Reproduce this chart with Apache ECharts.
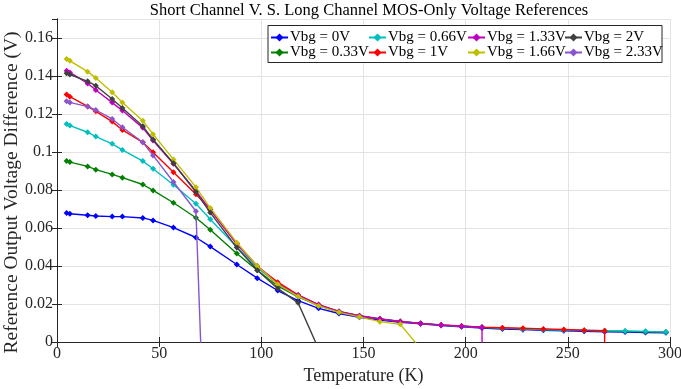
<!DOCTYPE html>
<html><head><meta charset="utf-8">
<script src="https://cdn.jsdelivr.net/npm/echarts@6/dist/echarts.min.js"></script>
<style>html,body{margin:0;padding:0;background:#fff}#c{width:681px;height:389px}</style>
</head><body><div id="c"></div>
<script>
var temps = [4.7, 6.3, 15, 19, 27, 32, 42, 47, 57, 68, 75, 88, 98, 108, 118, 128, 138, 148, 158, 168, 178, 188, 198, 208, 218, 228, 238, 248, 258, 268, 278, 288, 298];
var v0 = [0.0679, 0.0675, 0.0667, 0.0663, 0.0660, 0.0660, 0.0653, 0.0640, 0.0602, 0.0550, 0.0502, 0.0408, 0.0336, 0.0271, 0.0218, 0.0177, 0.0150, 0.0130, 0.0115, 0.0104, 0.0096, 0.0087, 0.0080, 0.0074, 0.0068, 0.0065, 0.0062, 0.0059, 0.0056, 0.0054, 0.0052, 0.0050, 0.0049];
var v033 = [0.0952, 0.0947, 0.0924, 0.0907, 0.0882, 0.0865, 0.0829, 0.0798, 0.0733, 0.0654, 0.0591, 0.0466, 0.0378, 0.0295, 0.0238, 0.0192, 0.0158, 0.0136, 0.0121, 0.0108, 0.0098, 0.0089, 0.0083, 0.0077, 0.0073, 0.0069, 0.0066, 0.0063, 0.0061, 0.0058, 0.0056, 0.0054, 0.0052];
var v066 = [0.1148, 0.1139, 0.1104, 0.1081, 0.1043, 0.1011, 0.0952, 0.0912, 0.0828, 0.0728, 0.0646, 0.0500, 0.0390, 0.0308, 0.0247, 0.0196, 0.0161, 0.0138, 0.0122, 0.0108, 0.0098, 0.0089, 0.0083, 0.0077, 0.0073, 0.0069, 0.0066, 0.0063, 0.0061, 0.0059, 0.0058, 0.0056, 0.0052];
var v1 = [0.1302, 0.1291, 0.1240, 0.1214, 0.1160, 0.1116, 0.1051, 0.0999, 0.0894, 0.0777, 0.0698, 0.0518, 0.0399, 0.0315, 0.0248, 0.0197, 0.0161, 0.0138, 0.0122, 0.0108, 0.0098, 0.0090, 0.0084, 0.0078, 0.0075, 0.0072, 0.0069, 0.0066, 0.0062, 0.0059, -3];
var v133 = [0.1428, 0.1419, 0.1361, 0.1326, 0.1260, 0.1218, 0.1127, 0.1060, 0.0938, 0.0795, 0.0695, 0.0515, 0.0400, 0.0305, 0.0245, 0.0195, 0.0160, 0.0137, 0.0121, 0.0107, 0.0098, 0.0089, 0.0083, 0.0078, -3];
var v166 = [0.1489, 0.1480, 0.1423, 0.1390, 0.1314, 0.1260, 0.1164, 0.1094, 0.0961, 0.0815, 0.0705, 0.0523, 0.0400, 0.0304, 0.0240, 0.0190, 0.0156, 0.0132, 0.0107, 0.0093, -0.0036];
var v2 = [0.1414, 0.1408, 0.1372, 0.1349, 0.1279, 0.1232, 0.1135, 0.1066, 0.0941, 0.0789, 0.0681, 0.0497, 0.0378, 0.0282, 0.0206, -0.0036];
var v233 = [0.1267, 0.1261, 0.1239, 0.1221, 0.1174, 0.1130, 0.1051, 0.0982, 0.0842, 0.0688, -0.14];
var names = ['Vbg = 0V', 'Vbg = 0.33V', 'Vbg = 0.66V', 'Vbg = 1V', 'Vbg = 1.33V', 'Vbg = 1.66V', 'Vbg = 2V', 'Vbg = 2.33V'];
var colors = ['#0000FF', '#008000', '#00BFBF', '#FF0000', '#BF00BF', '#BFBF00', '#404040', '#8A55CC'];
var values = [v0, v033, v066, v1, v133, v166, v2, v233];
var xTicks = [0, 50, 100, 150, 200, 250, 300];
var yTicks = [0, 0.02, 0.04, 0.06, 0.08, 0.1, 0.12, 0.14, 0.16];

var FONT = 'Liberation Serif';
var series = values.map(function (vals, i) {
  return {
    name: names[i], type: 'line', clip: true,
    data: vals.map(function (v, j) { return [temps[j], v]; }),
    symbol: 'diamond', symbolSize: 6, showSymbol: true,
    lineStyle: { color: colors[i], width: 1.4 },
    itemStyle: { color: colors[i] },
    z: 2 + i
  };
});
function legendCol(left, items) {
  return {
    orient: 'vertical', left: left, top: 30, itemWidth: 17, itemHeight: 10, itemGap: 0,
    padding: 0, z: 200,
    data: items,
    textStyle: { fontFamily: FONT, fontSize: 15, color: '#000', padding: [0, 0, 0, -3], lineHeight: 15 }
  };
}
var chart = echarts.init(document.getElementById('c'));
chart.setOption({
  animation: false,
  color: colors,
  title: { text: 'Short Channel V. S. Long Channel MOS-Only Voltage References', left: 364, textAlign: 'center', top: -3,
    textStyle: { fontFamily: FONT, fontSize: 16.5, fontWeight: 'normal', color: '#000' } },
  grid: { left: 57, right: 11, top: 19, bottom: 47, containLabel: false, outerBoundsMode: 'none' },
  legend: [
    legendCol(270, [names[0], names[1]]),
    legendCol(368, [names[2], names[3]]),
    legendCol(467, [names[4], names[5]]),
    legendCol(564, [names[6], names[7]])
  ],
  graphic: [{ type: 'rect', shape: { x: 268, y: 25.5, width: 394, height: 37 }, style: { fill: '#fff', stroke: '#262626', lineWidth: 1 }, z: 50 }],
  xAxis: [{
    type: 'value', min: 0, max: 300, interval: 50,
    name: 'Temperature (K)', nameLocation: 'middle', nameGap: 25, nameMoveOverlap: false,
    nameTextStyle: { fontFamily: FONT, fontSize: 18, color: '#262626' },
    axisLine: { show: true, lineStyle: { color: '#262626', width: 1 } },
    axisTick: { inside: true, length: 5, lineStyle: { color: '#262626' } },
    axisLabel: { fontFamily: FONT, fontSize: 16, color: '#262626', margin: 4,
      formatter: function (v) { return xTicks.indexOf(v) >= 0 ? String(v) : ''; } },
    splitLine: { show: true, lineStyle: { color: '#E3E3E3', width: 1 } }
  }, {
    type: 'value', position: 'top', min: 0, max: 300, interval: 50,
    axisLine: { show: true, lineStyle: { color: '#262626', width: 1 } },
    axisTick: { inside: true, length: 5, lineStyle: { color: '#262626' } },
    axisLabel: { show: false }, splitLine: { show: false }
  }],
  yAxis: [{
    type: 'value', min: 0, max: 0.17, interval: 0.02,
    name: 'Reference Output Voltage Difference (V)', nameLocation: 'middle', nameGap: 35, nameMoveOverlap: false,
    nameTextStyle: { fontFamily: FONT, fontSize: 19.5, color: '#262626', padding: [0, 24, 0, 0] },
    axisLine: { show: true, lineStyle: { color: '#262626', width: 1 } },
    axisTick: { inside: true, length: 5, lineStyle: { color: '#262626' } },
    axisLabel: { fontFamily: FONT, fontSize: 16, color: '#262626', margin: 4, showMaxLabel: false,
      formatter: function (v) { var r = Math.round(v * 100) / 100; return v > 0.165 ? '' : String(r); } },
    splitLine: { show: true, lineStyle: { color: '#E3E3E3', width: 1 } }
  }, {
    type: 'value', position: 'right', min: 0, max: 0.17, interval: 0.02,
    axisLine: { show: true, lineStyle: { color: '#262626', width: 1 } },
    axisTick: { inside: true, length: 5, lineStyle: { color: '#262626' } },
    axisLabel: { show: false }, splitLine: { show: false }
  }],
  series: series
});
</script></body></html>
